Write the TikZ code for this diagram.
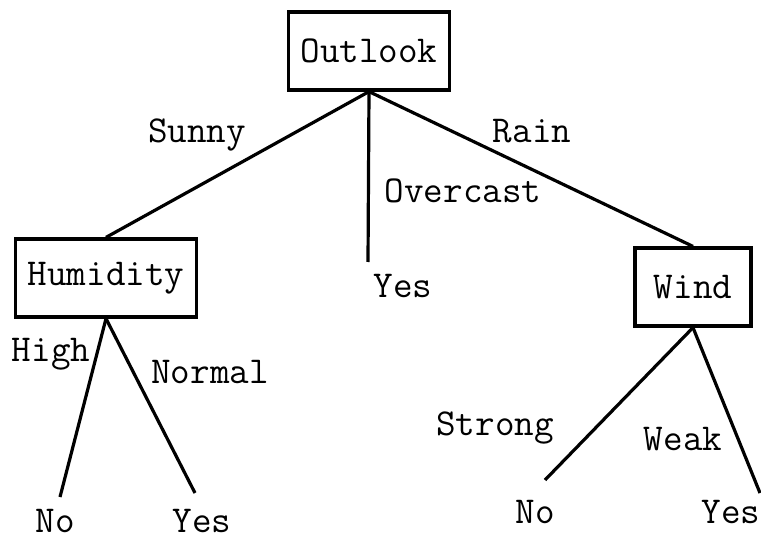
\documentclass[tikz,border=0pt]{standalone}
\tikzset{ box/.style = { rectangle % attribute
        , draw
        , line width = 3.2pt
        , inner xsep = 12pt
        , minimum height = 78pt
        , font = \ttfamily\fontsize{38}{44}\selectfont
        }
        , txt/.style = { inner sep = 0pt % branch value and leaf
        , anchor = base
        , font = \ttfamily\fontsize{38}{44}\selectfont
        }
        }

\begin{document}
\begin{tikzpicture}[x=1pt, y=-1pt,
        edge_style/.style={draw=black, line width=3.2pt}]
        \useasboundingbox (0,0) rectangle (761,540);

        \node [box](outlook) at (369,51) {Outlook};
        \node [box](humidity) at (106,278) {Humidity};
        \node [box,minimum width=116pt](wind) at (693,287) {Wind};

        \coordinate (e_over) at (368,262);
        \coordinate (e_high) at (60,497);
        \coordinate (e_normal) at (195,493);
        \coordinate (e_strong) at (545,480);
        \coordinate (e_weak) at (760,493);

        \node [txt](l_sunny) at (197,143) {Sunny};
        \node [txt](l_rain) at (532,143) {Rain};
        \node [txt](l_over) at (463,203) {Overcast};
        \node [txt](l_high) at (51,362) {High};
        \node [txt](l_normal) at (210,383) {Normal};
        \node [txt](l_strong) at (495,435) {Strong};
        \node [txt](l_weak) at (683,450) {Weak};

        \node [txt](yes1) at (403,298) {Yes};
        \node [txt](no1) at (55,532) {No};
        \node [txt](yes2) at (202,532) {Yes};
        \node [txt](no2) at (535,523) {No};
        \node [txt](yes3) at (731,523) {Yes};

        \draw [edge_style] (outlook.south) -- (humidity.north);
        \draw [edge_style] (outlook.south) -- (e_over);
        \draw [edge_style] (outlook.south) -- (wind.north);
        \draw [edge_style] (humidity.south) -- (e_high);
        \draw [edge_style] (humidity.south) -- (e_normal);
        \draw [edge_style] (wind.south) -- (e_strong);
        \draw [edge_style] (wind.south) -- (e_weak);
\end{tikzpicture}
\end{document}
